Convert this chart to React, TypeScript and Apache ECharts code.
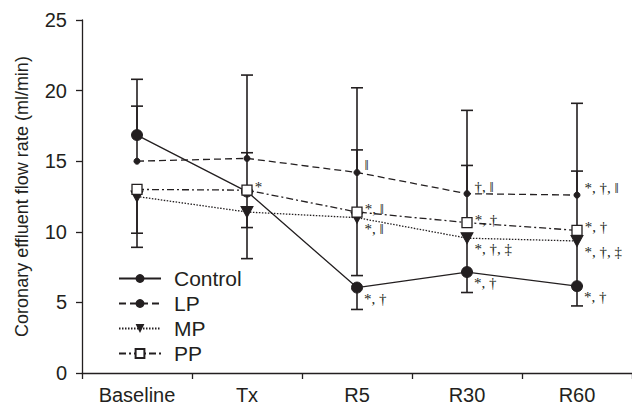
import React, { useEffect, useRef } from "react";
import * as echarts from "echarts";

const categories = ["Baseline", "Tx", "R5", "R30", "R60"];
const controlValues = [16.85, 12.85, 6.05, 7.15, 6.15];
const lpValues = [15.0, 15.2, 14.2, 12.7, 12.6];
const mpValues = [12.5, 11.4, 11.0, 9.55, 9.35];
const ppValues = [13.0, 12.95, 11.4, 10.65, 10.1];

const controlErrEnds = [20.8, 21.1, 4.5, 5.7, 4.75];
const lpErrEnds = [18.9, 15.6, 20.2, 18.6, 19.1];
const mpErrEnds = [8.9, 8.1, 6.9, 7.15, 6.15];
const ppErrEnds = [9.9, 10.3, 15.8, 14.7, 14.3];

const controlNotes = ["", "", "*, †", "*, †", "*, †"];
const lpNotes = ["", "", "‖", "†, ‖", "*, †, ‖"];
const mpNotes = ["", "", "*, ‖", "*, †, ‡", "*, †, ‡"];
const ppNotes = ["", "*", "*, ‖", "*, †", "*, †"];

const INK = "#231f20";
const SANS = "'Liberation Sans', Arial, sans-serif";
const SERIF = "'Liberation Serif', 'Times New Roman', serif";

function withNotes(values: number[], notes: string[], offset: number[]) {
  return values.map((v, i) => ({
    value: v,
    label: {
      show: notes[i] !== "",
      formatter: notes[i],
      position: "right",
      offset,
      fontFamily: SERIF,
      fontSize: 15,
      color: INK,
    },
  }));
}

function errData(values: number[], ends: number[]) {
  return values.map((v, i) => [i, v, ends[i]]);
}

const errRender = (params: any, api: any) => {
  const x = api.value(0);
  const p0 = api.coord([x, api.value(1)]);
  const p1 = api.coord([x, api.value(2)]);
  const half = 6;
  const style = { stroke: INK, lineWidth: 1.6, fill: null };
  return {
    type: "group",
    children: [
      { type: "line", shape: { x1: p0[0], y1: p0[1], x2: p1[0], y2: p1[1] }, style },
      { type: "line", shape: { x1: p1[0] - half, y1: p1[1], x2: p1[0] + half, y2: p1[1] }, style },
    ],
  };
};

export default function App() {
  const ref = useRef<HTMLDivElement>(null);
  useEffect(() => {
    if (!ref.current) return;
    const chart = echarts.init(ref.current, undefined, { renderer: "svg" });
    const errSeries = [
      errData(controlValues, controlErrEnds),
      errData(lpValues, lpErrEnds),
      errData(mpValues, mpErrEnds),
      errData(ppValues, ppErrEnds),
    ].map((d) => ({
      type: "custom",
      renderItem: errRender,
      data: d,
      z: 1,
      silent: true,
      encode: { x: 0, y: [1, 2] },
    }));
    chart.setOption({
      animation: false,
      backgroundColor: "#ffffff",
      grid: { left: 82, right: 0, top: 20, bottom: 34 },
      legend: {
        orient: "vertical",
        left: 113,
        top: 263,
        itemWidth: 42,
        itemHeight: 11,
        itemGap: 4,
        textStyle: { fontFamily: SANS, fontSize: 21, color: INK, padding: [0, 0, 0, 8] },
        data: ["Control", "LP", "MP", "PP"],
      },
      xAxis: {
        type: "category",
        data: categories,
        boundaryGap: true,
        axisLine: { lineStyle: { color: INK, width: 1.3 } },
        axisTick: { show: true, length: 6, inside: false, lineStyle: { color: INK, width: 1.3 } },
        axisLabel: { fontFamily: SANS, fontSize: 20, color: INK, margin: 12 },
      },
      yAxis: {
        type: "value",
        min: 0,
        max: 25,
        interval: 5,
        name: "Coronary effluent flow rate (ml/min)",
        nameLocation: "middle",
        nameGap: 51,
        nameTextStyle: { fontFamily: SANS, fontSize: 18, color: INK },
        splitLine: { show: false },
        axisLine: { show: true, lineStyle: { color: INK, width: 1.3 } },
        axisTick: { show: true, length: 6, inside: false, lineStyle: { color: INK, width: 1.3 } },
        axisLabel: { fontFamily: SANS, fontSize: 20, color: INK, margin: 15 },
      },
      series: [
        ...errSeries,
        {
          name: "Control",
          type: "line",
          data: withNotes(controlValues, controlNotes, [-4, 11]),
          symbol: "circle",
          symbolSize: 11,
          itemStyle: { color: INK, borderColor: INK },
          lineStyle: { color: INK, width: 1.3, type: "solid" },
          z: 3,
        },
        {
          name: "LP",
          type: "line",
          data: withNotes(lpValues, lpNotes, [-1, -7]),
          symbol: "circle",
          symbolSize: 6,
          itemStyle: { color: INK, borderColor: INK },
          lineStyle: { color: INK, width: 1.3, type: [7, 4] },
          z: 3,
        },
        {
          name: "MP",
          type: "line",
          data: withNotes(mpValues, mpNotes, [-4, 11]),
          symbol: "triangle",
          symbolRotate: 180,
          symbolSize: [12, 11],
          itemStyle: { color: INK, borderColor: INK },
          lineStyle: { color: INK, width: 1.3, type: [1.5, 1.5] },
          z: 3,
        },
        {
          name: "PP",
          type: "line",
          data: withNotes(ppValues, ppNotes, [-3, -3]),
          symbol: "rect",
          symbolSize: 10,
          itemStyle: { color: "#ffffff", borderColor: INK, borderWidth: 1.3 },
          lineStyle: { color: INK, width: 1.3, type: [7, 3, 2, 3] },
          z: 4,
        },
      ],
    });
    return () => chart.dispose();
  }, []);
  return (
    <div
      ref={ref}
      style={{ position: "fixed", left: 0, top: 0, width: 632, height: 407 }}
    />
  );
}
